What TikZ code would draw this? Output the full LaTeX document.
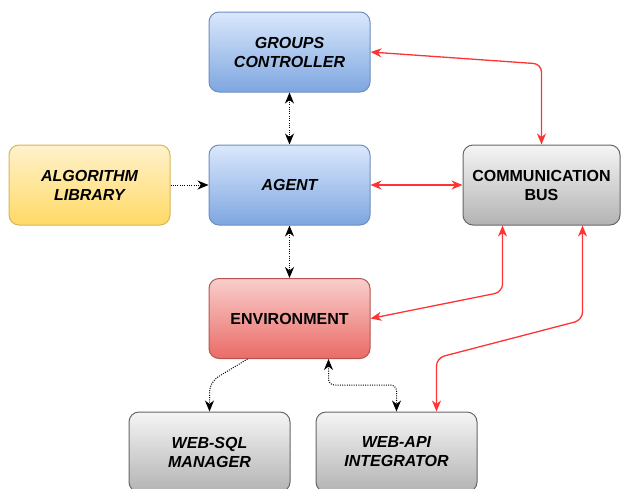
\documentclass[tikz,border=0pt]{standalone}
\usepackage{fontspec}
\setmainfont{Liberation Sans}
\usetikzlibrary{arrows.meta,calc}
\definecolor{bluetop}{HTML}{DAE8FC}\definecolor{bluebot}{HTML}{7EA6E0}\definecolor{blueline}{HTML}{6C8EBF}
\definecolor{yeltop}{HTML}{FFF2CC}\definecolor{yelbot}{HTML}{FFD966}\definecolor{yelline}{HTML}{D6B656}
\definecolor{redtop}{HTML}{F8CECC}\definecolor{redbot}{HTML}{EA6B66}\definecolor{redline}{HTML}{B85450}
\definecolor{graytop}{HTML}{F5F5F5}\definecolor{graybot}{HTML}{B3B3B3}\definecolor{grayline}{HTML}{666666}
\definecolor{linkred}{HTML}{FF3333}
\begin{document}
\begin{tikzpicture}[x=1pt,y=-1pt,
  box/.style={rounded corners=10pt,line width=1pt,minimum width=161pt,minimum height=80pt,inner sep=0pt,
    align=center,font=\fontsize{16}{19}\selectfont\bfseries},
  bluebox/.style={box,draw=blueline,top color=bluetop,bottom color=bluebot},
  yelbox/.style={box,draw=yelline,top color=yeltop,bottom color=yelbot},
  redbox/.style={box,draw=redline,top color=redtop,bottom color=redbot},
  graybox/.style={box,draw=grayline,top color=graytop,bottom color=graybot},
  dotlink/.style={line width=1pt,dash pattern=on 1pt off 1.3pt,black,arrows={-Stealth[length=11pt,width=9pt,inset=3.5pt]}},
  dotlinkb/.style={line width=1pt,dash pattern=on 1pt off 1.3pt,black,arrows={Stealth[length=11pt,width=9pt,inset=3.5pt]-Stealth[length=11pt,width=9pt,inset=3.5pt]}},
  redlink/.style={line width=1.3pt,linkred,rounded corners=8pt,arrows={Stealth[length=11pt,width=9pt,inset=3.5pt]-Stealth[length=11pt,width=9pt,inset=3.5pt]}}
]
\useasboundingbox (0,0) rectangle (621,488);
\clip (0,0) rectangle (621,488);

\node[bluebox] (gc) at (289.5,52) {\itshape GROUPS\\\itshape CONTROLLER};
\node[bluebox] (ag) at (289.5,185) {\itshape AGENT};
\node[yelbox] (al) at (89.5,185) {\itshape ALGORITHM\\\itshape LIBRARY};
\node[graybox,minimum width=157pt] (cb) at (541.5,185) {COMMUNICATION\\BUS};
\node[redbox] (env) at (289.5,318.5) {ENVIRONMENT};
\node[graybox] (sql) at (209.5,452) {\itshape WEB-SQL\\\itshape MANAGER};
\node[graybox] (api) at (396.5,452) {\itshape WEB-API\\\itshape INTEGRATOR};

\coordinate (cb1) at ($(cb.south west)+(40,0)$);
\coordinate (cb2) at ($(cb.south west)+(120,0)$);
\coordinate (api1) at ($(api.north west)+(121,0)$);
\coordinate (env1) at ($(env.south west)+(39,0)$);
\coordinate (env2) at ($(env.south west)+(120,0)$);

\draw[dotlinkb] (gc.south) -- (ag.north);
\draw[dotlink] (al.east) -- (ag.west);
\draw[dotlinkb] (ag.south) -- (env.north);
\draw[redlink] (ag.east) -- (cb.west);
\draw[redlink] (gc.east) -- (cb.north |- 0,64) -- (cb.north);
\draw[redlink] (env.east) -- (cb1 |- 0,292) -- (cb1);
\draw[redlink] (cb2) -- (cb2 |- 0,320) -- (api1 |- 0,358) -- (api1);
\draw[dotlink,rounded corners=10pt] (env1) -- (sql.north |- 0,382) -- (sql.north);
\draw[dotlinkb,rounded corners=6pt] (env2) -- (env2 |- 0,385) -- (api.north |- 0,385) -- (api.north);
\end{tikzpicture}
\end{document}
